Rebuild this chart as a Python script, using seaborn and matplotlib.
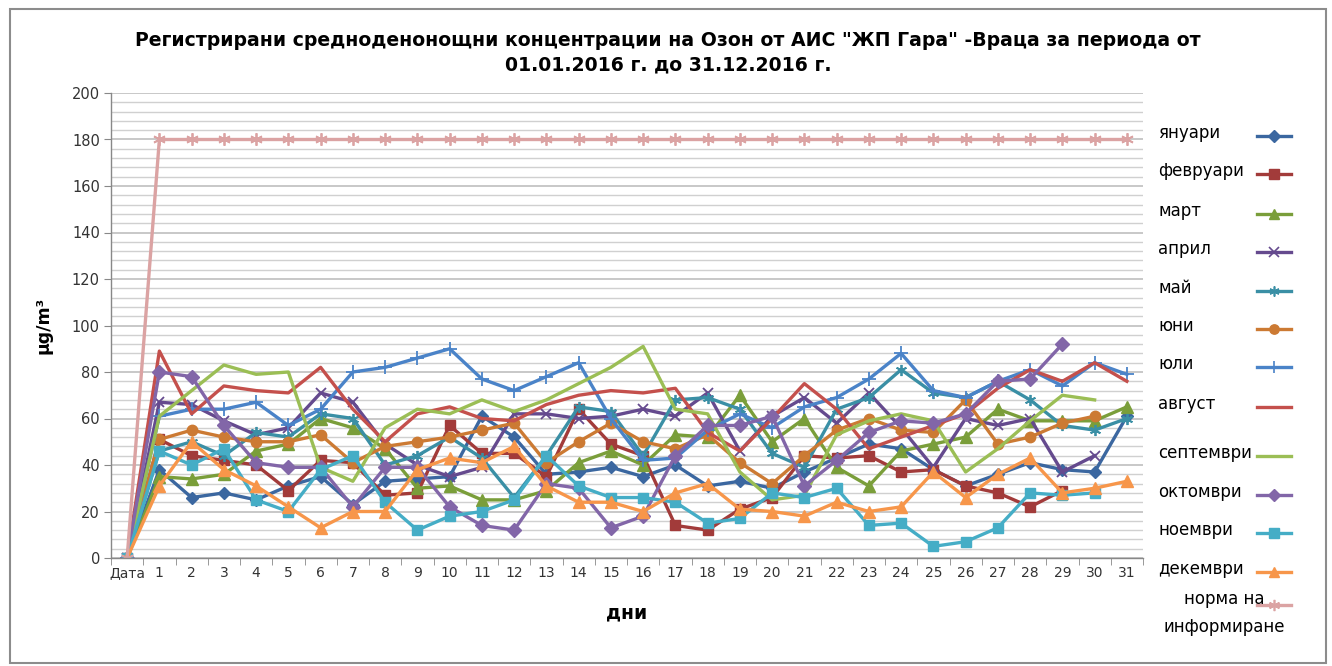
import numpy as np
import pandas as pd
import matplotlib
matplotlib.use('Agg')
import matplotlib.pyplot as plt
import seaborn as sns
from matplotlib.lines import Line2D
from matplotlib.patches import Rectangle

nan = np.nan

days = ['Дата'] + [str(d) for d in range(1, 32)]

january = [0, 38, 26, 28, 25, 31, 35, 23, 33, 34, 35, 61, 52, 36, 37, 39, 35, 40, 31, 33, 30, 37, 43, 49, 47, 38, 31, 36, 41, 38, 37, 61]
february = [0, 51, 44, 42, 40, 29, 42, 41, 27, 28, 57, 45, 45, 35, 64, 49, 44, 14, 12, 21, 26, 44, 43, 44, 37, 38, 31, 28, 22, 29, nan, nan]
march = [0, 35, 34, 36, 46, 49, 60, 56, 47, 30, 31, 25, 25, 29, 41, 46, 40, 53, 52, 70, 50, 60, 39, 31, 46, 49, 52, 64, 59, 59, 59, 65]
april = [0, 67, 66, 59, 53, 56, 71, 67, 49, 40, 35, 39, 62, 62, 60, 61, 64, 61, 71, 46, 61, 69, 58, 71, 56, 39, 60, 57, 60, 37, 44, nan]
may = [0, 46, 50, 44, 54, 52, 62, 60, 40, 44, 52, 43, 26, 44, 65, 63, 44, 68, 69, 64, 45, 39, 64, 69, 81, 71, 69, 76, 68, 57, 55, 60]
june = [0, 51, 55, 52, 50, 50, 53, 41, 48, 50, 52, 55, 58, 41, 50, 58, 50, 47, 53, 41, 32, 44, 55, 60, 55, 54, 68, 49, 52, 58, 61, nan]
july = [0, 61, 64, 64, 67, 57, 64, 80, 82, 86, 90, 77, 72, 78, 84, 60, 42, 43, 55, 62, 56, 65, 69, 77, 88, 72, 69, 76, 81, 74, 84, 79]
august = [0, 89, 62, 74, 72, 71, 82, 64, 50, 62, 65, 60, 59, 66, 70, 72, 71, 73, 54, 46, 60, 75, 64, 47, 52, 57, 62, 73, 81, 76, 84, 76]
september = [0, 61, 72, 83, 79, 80, 39, 33, 56, 64, 62, 68, 63, 68, 75, 82, 91, 64, 62, 37, 25, 27, 53, 59, 62, 59, 37, 47, 59, 70, 68, nan]
october = [0, 80, 78, 57, 41, 39, 39, 22, 39, 39, 22, 14, 12, 32, 30, 13, 18, 44, 57, 57, 61, 31, 42, 54, 59, 58, 62, 76, 77, 92, nan, nan]
november = [0, 46, 40, 47, 25, 20, 38, 44, 24, 12, 18, 20, 25, 44, 31, 26, 26, 24, 15, 17, 28, 26, 30, 14, 15, 5, 7, 13, 28, 27, 28, nan]
december = [0, 31, 50, 38, 31, 22, 13, 20, 20, 38, 43, 41, 48, 31, 24, 24, 20, 28, 32, 21, 20, 18, 24, 20, 22, 37, 26, 36, 43, 28, 30, 33]
norma = [0] + [180] * 31

series_names = ['януари', 'февруари', 'март', 'април', 'май', 'юни', 'юли', 'август',
                'септември', 'октомври', 'ноември', 'декември', 'норма на\nинформиране']
series_values = [january, february, march, april, may, june, july, august,
                 september, october, november, december, norma]

colors = ['#3B67A0', '#A23B3A', '#7A9E3A', '#654A8E', '#3A8FA5', '#CC7A33', '#4A83C8',
          '#C4504C', '#9BBE55', '#8266A8', '#45ADC6', '#F7964A', '#DBA3A3']
markers = ['D', 's', '^', 'x', (6, 2, 0), 'o', '+', None, None, 'D', 's', '^', (6, 2, 0)]
msizes = [6.5, 7.5, 8, 7.5, 8, 7.5, 10, 0, 0, 7, 7.5, 8.5, 9]

plt.rcParams['font.family'] = ['DejaVu Sans']

fig = plt.figure(figsize=(13.32, 6.66), dpi=100)
ax = fig.add_axes([111 / 1332, 1 - 558 / 666, (1143 - 111) / 1332, (558 - 93) / 666])

pos = np.arange(len(days))
for name, vals, col, mk, ms in zip(series_names, series_values, colors, markers, msizes):
    df = pd.DataFrame({'pos': pos, 'value': vals})
    kw = dict(color=col, linewidth=2.4, sort=False, errorbar=None, legend=False, ax=ax)
    if mk is not None:
        filled = mk in ('D', 's', '^', 'o')
        kw.update(marker=mk, markersize=ms, markeredgecolor=col,
                  markerfacecolor=col if filled else 'none',
                  markeredgewidth=1.0 if filled else 1.3)
    sns.lineplot(data=df, x='pos', y='value', **kw)

ax.set_xlim(-0.5, len(days) - 0.5)
ax.set_ylim(0, 200)
ax.set_yticks(np.arange(0, 201, 20))
ax.set_yticks(np.arange(0, 201, 4), minor=True)
ax.set_xticks(pos)
ax.set_xticklabels(days)
ax.set_xticks(np.arange(-0.5, len(days), 1), minor=True)
ax.grid(True, which='major', axis='y', color='#BFBFBF', linewidth=1.2)
ax.grid(True, which='minor', axis='y', color='#D0D0D0', linewidth=1.0)
ax.set_axisbelow(True)
ax.tick_params(axis='x', which='major', length=0, pad=6, labelsize=10, labelcolor='#333333')
ax.tick_params(axis='x', which='minor', length=5, color='#888888', direction='out')
ax.tick_params(axis='y', which='major', length=5, color='#888888', labelsize=10.5, labelcolor='#333333', pad=3)
ax.tick_params(axis='y', which='minor', length=0)
for s in ['top', 'right']:
    ax.spines[s].set_visible(False)
for s in ['left', 'bottom']:
    ax.spines[s].set_color('#888888')
    ax.spines[s].set_linewidth(1.0)

ax.set_xlabel('дни', fontsize=13.5, fontweight='bold', labelpad=17)
ax.set_ylabel('µg/m³', fontsize=12.5, fontweight='bold', labelpad=14)

fig.text(668 / 1332, 1 - 40 / 666,
         'Регистрирани средноденонощни концентрации на Озон от АИС "ЖП Гара" -Враца за периода от',
         ha='center', va='center', fontsize=13.6, fontweight='bold')
fig.text(668 / 1332, 1 - 65 / 666, '01.01.2016 г. до 31.12.2016 г.',
         ha='center', va='center', fontsize=13.6, fontweight='bold')

# legend drawn by hand: labels left aligned, samples in one column
row_y = [133, 171, 211, 249, 288, 326, 364, 404, 453, 492, 530, 569, 605]
for i, (name, col, mk, ms) in enumerate(zip(series_names, colors, markers, msizes)):
    yy = 1 - row_y[i] / 666
    if i < 12:
        fig.text(1158 / 1332, yy, name, ha='left', va='center', fontsize=12)
        ly = 1 - (row_y[i] + 3) / 666
    else:
        fig.text(1224 / 1332, 1 - 613 / 666, name, ha='center', va='center', fontsize=12,
                 linespacing=1.65)
        ly = yy
    fig.add_artist(Line2D([1257 / 1332, 1291 / 1332], [ly, ly], color=col, linewidth=2.4))
    if mk is not None:
        filled = mk in ('D', 's', '^', 'o')
        fig.add_artist(Line2D([1274 / 1332], [ly], color=col, marker=mk, markersize=ms * 0.9,
                              markeredgecolor=col, markerfacecolor=col if filled else 'none',
                              markeredgewidth=1.0 if filled else 1.2, linestyle='none'))

fig.add_artist(Rectangle((10 / 1332, 3 / 666), 1316 / 1332, 654 / 666, transform=fig.transFigure,
                         fill=False, edgecolor='#8C8C8C', linewidth=1.5))

fig.savefig('out.png', dpi=100)
